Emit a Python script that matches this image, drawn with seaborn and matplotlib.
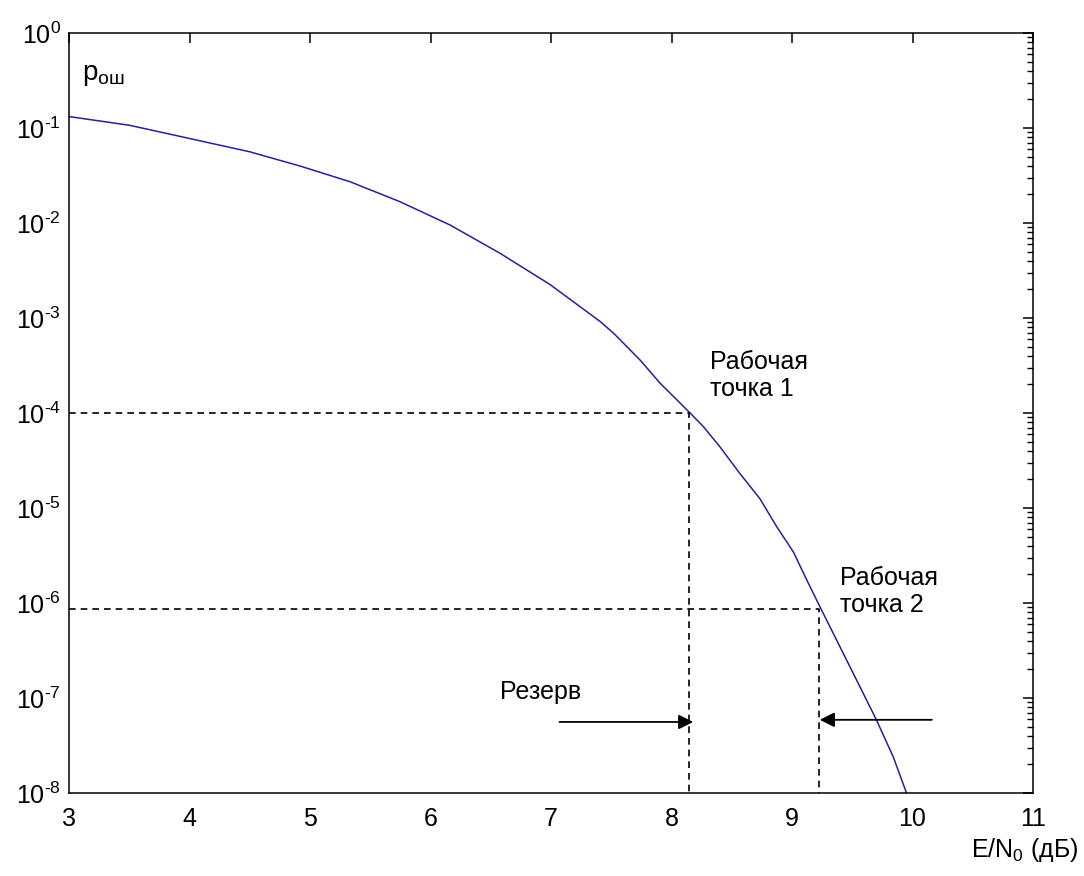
import matplotlib
matplotlib.use("Agg")
import matplotlib.pyplot as plt
import matplotlib.ticker as mticker
import numpy as np
import pandas as pd
import seaborn as sns

# ---- data ----
ebn0_db = [3.0, 3.5, 4.0, 4.5, 4.917, 5.332, 5.747, 6.162, 6.577, 6.992, 7.407,
           7.52, 7.74, 7.905, 8.154, 8.264, 8.402, 8.568, 8.734, 8.873, 9.011,
           9.122, 9.232, 9.48, 9.70, 9.84, 9.95]
p_err = [0.132, 0.107, 0.0776, 0.0562, 0.0398, 0.0272, 0.01675, 0.00953, 0.0048,
         0.00225, 9.2e-4, 6.9e-4, 3.6e-4, 2.06e-4, 1.0e-4, 7.2e-5, 4.4e-5, 2.3e-5,
         1.25e-5, 6.35e-6, 3.45e-6, 1.75e-6, 9.1e-7, 2.14e-7, 5.9e-8, 2.4e-8, 1.0e-8]

op_x = [8.145, 9.225]          # operating points (dB)
op_p = [1.0e-4, 8.7e-7]        # operating point error probabilities
op_labels = ["Рабочая\nточка 1", "Рабочая\nточка 2"]

reserve_label = "Резерв"
arrow_start = [7.07, 10.16]
arrow_end = [8.18, 9.23]
arrow_p = [5.6e-8, 5.9e-8]

x_ticks = [3, 4, 5, 6, 7, 8, 9, 10, 11]
y_tick_exponents = [0, -1, -2, -3, -4, -5, -6, -7, -8]

df = pd.DataFrame({"EbN0": ebn0_db, "p": p_err})

# ---- style ----
sns.set_style("white")
plt.rcParams["font.family"] = ["Liberation Sans", "DejaVu Sans"]
plt.rcParams["mathtext.default"] = "regular"
plt.rcParams["axes.unicode_minus"] = False
plt.rcParams["text.color"] = "black"
plt.rcParams["axes.linewidth"] = 1.1

fig = plt.figure(figsize=(10.84, 8.76), dpi=100)
ax = fig.add_axes([0.0637, 0.0947, 0.8893, 0.8676])

sns.lineplot(data=df, x="EbN0", y="p", ax=ax, color="#22229c", linewidth=1.1,
             estimator=None, sort=False)
ax.set_yscale("log")
ax.set_xlim(3, 11)
ax.set_ylim(1e-8, 1)

# dashed guide lines for operating points
for xo, po in zip(op_x, op_p):
    ax.plot([3, xo, xo], [po, po, 1e-8], color="black", lw=1.2,
            linestyle=(0, (4, 3)), clip_on=False)

# arrows
for xs, xe, pa in zip(arrow_start, arrow_end, arrow_p):
    ax.annotate("", xy=(xe, pa), xytext=(xs, pa),
                arrowprops=dict(arrowstyle="-|>", color="black", lw=1.3,
                                mutation_scale=22, shrinkA=0, shrinkB=0))

# text labels
fs = 18
ax.text(8.32, 2.48e-4, op_labels[0], fontsize=fs, va="center", ha="left", color="black")
ax.text(9.40, 1.32e-6, op_labels[1], fontsize=fs, va="center", ha="left", color="black")
ax.text(6.577, 1.15e-7, reserve_label, fontsize=fs, va="center", ha="left", color="black")

# axis labels in MATLAB-like placement
ax.text(0.0135, 0.938, "p$_{ош}$", transform=ax.transAxes, fontsize=20,
        va="baseline", ha="left", color="black")
fig.text(0.995, 1 - 850 / 876, "E/N$_0$ (дБ)", fontsize=fs, ha="right", va="center",
         color="black")
ax.set_xlabel("")
ax.set_ylabel("")


def log_fmt(v, pos):
    e = int(round(np.log10(v)))
    s = str(e).replace("-", "\u2010")
    return "10$^{" + s + "}$"


# ticks
ax.set_xticks(x_ticks)
ax.xaxis.set_major_formatter(mticker.FormatStrFormatter("%d"))
ax.yaxis.set_major_locator(mticker.FixedLocator([10.0 ** e for e in y_tick_exponents]))
ax.yaxis.set_major_formatter(mticker.FuncFormatter(log_fmt))
ax.yaxis.set_minor_locator(mticker.LogLocator(base=10, subs=np.arange(2, 10), numticks=20))
ax.yaxis.set_minor_formatter(mticker.NullFormatter())
ax.tick_params(axis="both", which="both", direction="in", top=True, right=True,
               colors="black", labelsize=fs)
ax.tick_params(axis="both", which="major", length=7, width=1.1)
ax.tick_params(axis="y", which="minor", length=4, width=1.0)
ax.tick_params(axis="x", which="major", pad=10)
ax.tick_params(axis="y", which="major", pad=6)

for s in ax.spines.values():
    s.set_visible(True)
    s.set_color("black")

fig.savefig("out.png", dpi=100, facecolor="white")
